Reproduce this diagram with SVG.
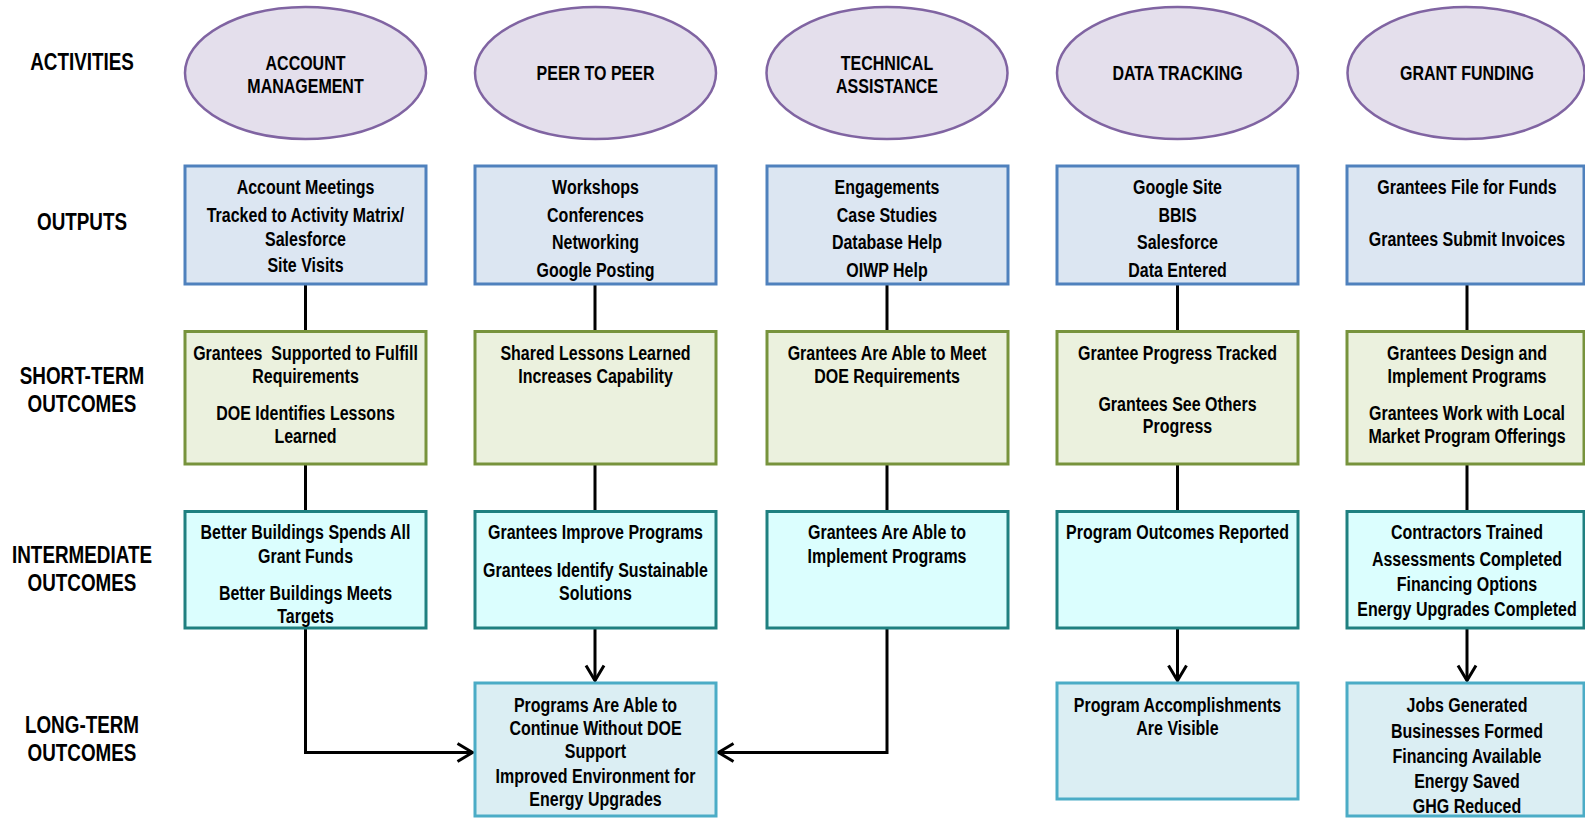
<svg xmlns="http://www.w3.org/2000/svg" width="1585" height="818" viewBox="0 0 1585 818">
<defs>
<style>
.t{font-family:"Liberation Sans",Arial,sans-serif;font-weight:bold;font-size:19.5px;text-anchor:middle;fill:#000}
.lbl{font-size:23px}
.act{fill:#E4DFEC;stroke:#8064A2;stroke-width:2.5}
.out{fill:#DCE6F2;stroke:#4F81BD;stroke-width:3}
.st{fill:#EBF1DE;stroke:#77933C;stroke-width:3}
.im{fill:#DBFEFE;stroke:#1F8080;stroke-width:3}
.lt{fill:#DBEEF3;stroke:#4BACC6;stroke-width:3}
.c{fill:none;stroke:#000;stroke-width:3}
</style>
<marker id="ah" markerUnits="userSpaceOnUse" viewBox="-18 -12 22 24" refX="0" refY="0" markerWidth="22" markerHeight="24" orient="auto">
<path d="M-15,-9 L0,0 L-15,9" fill="none" stroke="#000" stroke-width="3"/>
</marker>
</defs>
<rect width="1585" height="818" fill="#fff"/>

<g id="row-labels" transform="translate(82 0) scale(0.82 1)">
<text class="t lbl" x="0" y="70">ACTIVITIES</text>
<text class="t lbl" x="0" y="230">OUTPUTS</text>
<text class="t lbl" x="0" y="384">SHORT-TERM</text>
<text class="t lbl" x="0" y="412">OUTCOMES</text>
<text class="t lbl" x="0" y="563">INTERMEDIATE</text>
<text class="t lbl" x="0" y="591">OUTCOMES</text>
<text class="t lbl" x="0" y="733">LONG-TERM</text>
<text class="t lbl" x="0" y="761">OUTCOMES</text>
</g>

<g id="connectors">
<path class="c" d="M305.5,284 V331.5 M305.5,464 V511.5 M595,284 V331.5 M595,464 V511.5 M887,284 V331.5 M887,464 V511.5 M1177.5,284 V331.5 M1177.5,464 V511.5 M1467,284 V331.5 M1467,464 V511.5"/>
<path class="c" d="M305.5,628 V752.5 H472.5" marker-end="url(#ah)"/>
<path class="c" d="M887,628 V752.5 H718.5" marker-end="url(#ah)"/>
<path class="c" d="M595,628 V680.5" marker-end="url(#ah)"/>
<path class="c" d="M1177.5,628 V680.5" marker-end="url(#ah)"/>
<path class="c" d="M1467,628 V680.5" marker-end="url(#ah)"/>
</g>

<g id="act-account">
<ellipse class="act" cx="305.5" cy="73" rx="120.5" ry="66"/>
<g transform="translate(305.5 0) scale(0.82 1)">
<text class="t" x="0" y="70">ACCOUNT</text>
<text class="t" x="0" y="93">MANAGEMENT</text>
</g>
</g>
<g id="act-peer">
<ellipse class="act" cx="595.5" cy="73" rx="120.5" ry="66"/>
<g transform="translate(595.5 0) scale(0.82 1)">
<text class="t" x="0" y="80.5">PEER TO PEER</text>
</g>
</g>
<g id="act-technical">
<ellipse class="act" cx="887" cy="73" rx="120.5" ry="66"/>
<g transform="translate(887 0) scale(0.82 1)">
<text class="t" x="0" y="70">TECHNICAL</text>
<text class="t" x="0" y="93">ASSISTANCE</text>
</g>
</g>
<g id="act-data">
<ellipse class="act" cx="1177.5" cy="73" rx="120.5" ry="66"/>
<g transform="translate(1177.5 0) scale(0.82 1)">
<text class="t" x="0" y="80.5">DATA TRACKING</text>
</g>
</g>
<g id="act-grant">
<ellipse class="act" cx="1466" cy="73" rx="118.5" ry="66"/>
<g transform="translate(1467 0) scale(0.82 1)">
<text class="t" x="0" y="80.5">GRANT FUNDING</text>
</g>
</g>

<g id="out-account">
<rect class="out" x="185" y="166" width="241" height="118"/>
<g transform="translate(305.5 0) scale(0.82 1)">
<text class="t" x="0" y="194">Account Meetings</text>
<text class="t" x="0" y="222.5">Tracked to Activity Matrix/</text>
<text class="t" x="0" y="246.5">Salesforce</text>
<text class="t" x="0" y="272.5">Site Visits</text>
</g>
</g>
<g id="out-peer">
<rect class="out" x="475" y="166" width="241" height="118"/>
<g transform="translate(595.5 0) scale(0.82 1)">
<text class="t" x="0" y="194">Workshops</text>
<text class="t" x="0" y="222">Conferences</text>
<text class="t" x="0" y="249.5">Networking</text>
<text class="t" x="0" y="277.5">Google Posting</text>
</g>
</g>
<g id="out-technical">
<rect class="out" x="767" y="166" width="241" height="118"/>
<g transform="translate(887 0) scale(0.82 1)">
<text class="t" x="0" y="194">Engagements</text>
<text class="t" x="0" y="222">Case Studies</text>
<text class="t" x="0" y="249.5">Database Help</text>
<text class="t" x="0" y="277.5">OIWP Help</text>
</g>
</g>
<g id="out-data">
<rect class="out" x="1057" y="166" width="241" height="118"/>
<g transform="translate(1177.5 0) scale(0.82 1)">
<text class="t" x="0" y="194">Google Site</text>
<text class="t" x="0" y="222">BBIS</text>
<text class="t" x="0" y="249.5">Salesforce</text>
<text class="t" x="0" y="277.5">Data Entered</text>
</g>
</g>
<g id="out-grant">
<rect class="out" x="1347" y="166" width="237" height="118"/>
<g transform="translate(1467 0) scale(0.82 1)">
<text class="t" x="0" y="194">Grantees File for Funds</text>
<text class="t" x="0" y="246">Grantees Submit Invoices</text>
</g>
</g>

<g id="st-account">
<rect class="st" x="185" y="331.5" width="241" height="132.5"/>
<g transform="translate(305.5 0) scale(0.82 1)">
<text class="t" x="0" y="360" xml:space="preserve">Grantees  Supported to Fulfill</text>
<text class="t" x="0" y="383">Requirements</text>
<text class="t" x="0" y="420">DOE Identifies Lessons</text>
<text class="t" x="0" y="443">Learned</text>
</g>
</g>
<g id="st-peer">
<rect class="st" x="475" y="331.5" width="241" height="132.5"/>
<g transform="translate(595.5 0) scale(0.82 1)">
<text class="t" x="0" y="360">Shared Lessons Learned</text>
<text class="t" x="0" y="383">Increases Capability</text>
</g>
</g>
<g id="st-technical">
<rect class="st" x="767" y="331.5" width="241" height="132.5"/>
<g transform="translate(887 0) scale(0.82 1)">
<text class="t" x="0" y="360">Grantees Are Able to Meet</text>
<text class="t" x="0" y="383">DOE Requirements</text>
</g>
</g>
<g id="st-data">
<rect class="st" x="1057" y="331.5" width="241" height="132.5"/>
<g transform="translate(1177.5 0) scale(0.82 1)">
<text class="t" x="0" y="360">Grantee Progress Tracked</text>
<text class="t" x="0" y="411">Grantees See Others</text>
<text class="t" x="0" y="433">Progress</text>
</g>
</g>
<g id="st-grant">
<rect class="st" x="1347" y="331.5" width="237" height="132.5"/>
<g transform="translate(1467 0) scale(0.82 1)">
<text class="t" x="0" y="360">Grantees Design and</text>
<text class="t" x="0" y="383">Implement Programs</text>
<text class="t" x="0" y="420">Grantees Work with Local</text>
<text class="t" x="0" y="443">Market Program Offerings</text>
</g>
</g>

<g id="im-account">
<rect class="im" x="185" y="511.5" width="241" height="116.5"/>
<g transform="translate(305.5 0) scale(0.82 1)">
<text class="t" x="0" y="539">Better Buildings Spends All</text>
<text class="t" x="0" y="563">Grant Funds</text>
<text class="t" x="0" y="600">Better Buildings Meets</text>
<text class="t" x="0" y="623">Targets</text>
</g>
</g>
<g id="im-peer">
<rect class="im" x="475" y="511.5" width="241" height="116.5"/>
<g transform="translate(595.5 0) scale(0.82 1)">
<text class="t" x="0" y="539">Grantees Improve Programs</text>
<text class="t" x="0" y="577">Grantees Identify Sustainable</text>
<text class="t" x="0" y="600">Solutions</text>
</g>
</g>
<g id="im-technical">
<rect class="im" x="767" y="511.5" width="241" height="116.5"/>
<g transform="translate(887 0) scale(0.82 1)">
<text class="t" x="0" y="539">Grantees Are Able to</text>
<text class="t" x="0" y="563">Implement Programs</text>
</g>
</g>
<g id="im-data">
<rect class="im" x="1057" y="511.5" width="241" height="116.5"/>
<g transform="translate(1177.5 0) scale(0.82 1)">
<text class="t" x="0" y="539">Program Outcomes Reported</text>
</g>
</g>
<g id="im-grant">
<rect class="im" x="1347" y="511.5" width="237" height="116.5"/>
<g transform="translate(1467 0) scale(0.82 1)">
<text class="t" x="0" y="539">Contractors Trained</text>
<text class="t" x="0" y="566">Assessments Completed</text>
<text class="t" x="0" y="591">Financing Options</text>
<text class="t" x="0" y="616">Energy Upgrades Completed</text>
</g>
</g>

<g id="lt-peer">
<rect class="lt" x="475" y="683" width="241" height="133"/>
<g transform="translate(595.5 0) scale(0.82 1)">
<text class="t" x="0" y="712">Programs Are Able to</text>
<text class="t" x="0" y="735">Continue Without DOE</text>
<text class="t" x="0" y="758.5">Support</text>
<text class="t" x="0" y="783">Improved Environment for</text>
<text class="t" x="0" y="806">Energy Upgrades</text>
</g>
</g>
<g id="lt-data">
<rect class="lt" x="1057" y="683" width="241" height="116"/>
<g transform="translate(1177.5 0) scale(0.82 1)">
<text class="t" x="0" y="712">Program Accomplishments</text>
<text class="t" x="0" y="735">Are Visible</text>
</g>
</g>
<g id="lt-grant">
<rect class="lt" x="1347" y="683" width="237" height="133"/>
<g transform="translate(1467 0) scale(0.82 1)">
<text class="t" x="0" y="712">Jobs Generated</text>
<text class="t" x="0" y="738">Businesses Formed</text>
<text class="t" x="0" y="763">Financing Available</text>
<text class="t" x="0" y="788">Energy Saved</text>
<text class="t" x="0" y="813">GHG Reduced</text>
</g>
</g>
</svg>
